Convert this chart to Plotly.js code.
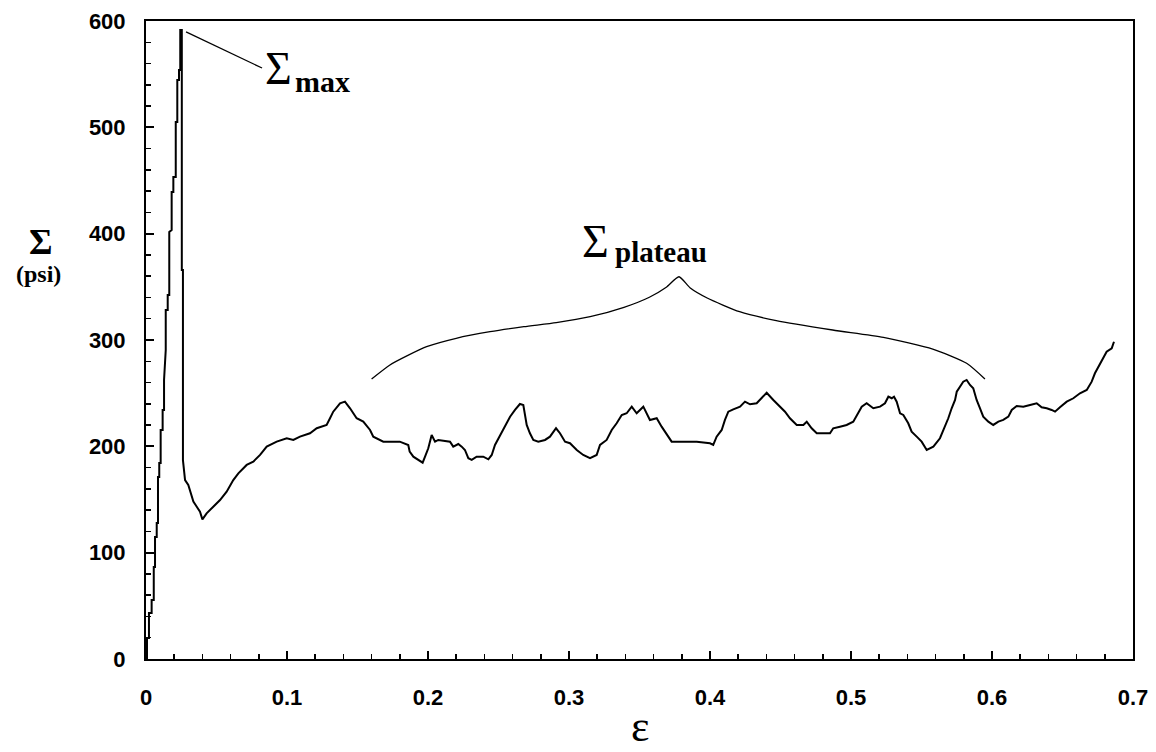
<!DOCTYPE html>
<html>
<head>
<meta charset="utf-8">
<script src="https://cdn.plot.ly/plotly-3.0.1.min.js"></script>
<style>html,body{margin:0;padding:0;background:#fff;}#chart{width:1156px;height:752px;}</style>
</head>
<body>
<div id="chart"></div>
<script>
// Strain (ε) and stress (Σ, psi)
const strain = [0,0.0007,0.0007,0.0021,0.0021,0.0040,0.0040,0.0055,0.0055,0.0064,0.0064,0.0076,0.0076,0.0085,0.0085,0.0094,0.0094,0.0104,0.0104,0.0118,0.0118,0.0128,0.0128,0.0140,0.0140,0.0154,0.0154,0.0165,0.0165,0.0182,0.0182,0.0194,0.0194,0.0211,0.0211,0.0222,0.0222,0.0234,0.0234,0.0243,0.0243,0.0254,0.0254,0.0262,0.0262,0.0270,0.0277,0.0300,0.0324,0.0336,0.0360,0.0383,0.0400,0.0430,0.0477,0.0525,0.0572,0.0619,0.0655,0.0714,0.0761,0.0809,0.0856,0.0927,0.0998,0.1045,0.1092,0.1163,0.1211,0.1281,0.1305,0.1328,0.1376,0.1411,0.1447,0.1494,0.1541,0.1589,0.1612,0.1683,0.1754,0.1800,0.1860,0.1870,0.1896,0.1931,0.1962,0.1979,0.2002,0.2026,0.2050,0.2073,0.2156,0.2179,0.2215,0.2239,0.2262,0.2286,0.2310,0.2345,0.2392,0.2428,0.2452,0.2475,0.2511,0.2546,0.2582,0.2617,0.2652,0.2676,0.2700,0.2723,0.2747,0.2782,0.2830,0.2865,0.2908,0.2936,0.2972,0.3007,0.3055,0.3101,0.3149,0.3196,0.3220,0.3267,0.3303,0.3338,0.3374,0.3409,0.3445,0.3480,0.3527,0.3574,0.3622,0.3657,0.3693,0.3728,0.3787,0.3906,0.4000,0.4023,0.4047,0.4083,0.4106,0.4130,0.4165,0.4213,0.4248,0.4284,0.4331,0.4355,0.4402,0.4449,0.4496,0.4532,0.4567,0.4615,0.4662,0.4686,0.4721,0.4757,0.4851,0.4874,0.4922,0.4969,0.5016,0.5052,0.5076,0.5111,0.5158,0.5206,0.5241,0.5265,0.5289,0.5305,0.5324,0.5348,0.5371,0.5406,0.5430,0.5466,0.5501,0.5537,0.5584,0.5631,0.5667,0.5690,0.5714,0.5738,0.5750,0.5773,0.5796,0.5820,0.5844,0.5867,0.5891,0.5915,0.5938,0.5974,0.6009,0.6045,0.6080,0.6116,0.6140,0.6175,0.6222,0.6270,0.6317,0.6352,0.6388,0.6423,0.6447,0.6482,0.6530,0.6577,0.6624,0.6672,0.6707,0.6730,0.6766,0.6789,0.6813,0.6849,0.6865];
const stress = [0,0,19.7,19.7,43.3,43.3,55.5,55.5,86.5,86.5,114.7,114.7,127.9,127.9,171.2,171.2,184.3,184.3,215.4,215.4,234.2,234.2,262.4,290.6,328.2,328.2,342.3,342.3,401.6,403.5,439.2,439.2,453.3,453.3,505,505,544.5,544.5,553.9,553.9,591.5,591.5,365.8,365.8,187,174.6,168.3,163.6,154.2,148,143.2,138.5,131.3,137,143.2,149.5,157.3,168.3,174.6,182.5,185.6,191.9,199.7,204.4,207.6,206,209.1,212.3,217,220.1,226.4,232.6,240.5,242,235.8,226.4,223.2,215.4,209.1,204.4,204.4,204.4,201.3,195,190.3,187.2,184.6,190.3,198.2,210.7,204.4,206,204.4,199.7,202.2,199.7,196.6,188.8,187.2,190.3,190.3,187.8,191.9,201.3,210.7,218.5,227.9,234.2,239.8,238.9,220.1,212.3,206,204.4,206,209.1,217,212.3,204.4,202.9,196.6,191.9,188.8,191.9,201.3,206,215.4,221.7,229.5,231.1,237.3,231.1,237.3,224.8,226.4,218.5,210.7,204.4,204.4,204.4,202.9,201.3,209.1,215.4,224.8,232.6,234.8,237.3,242,239.5,240.5,243.6,250.4,243.6,237.3,232.6,226.4,220.1,220.1,223.2,217,212.3,212.3,217,218.5,220.1,223.2,231.1,237.3,240.5,235.8,237.3,240.5,246.7,245.2,246.7,242,231.1,229.5,221.7,213.8,209.1,204.4,196.6,199.7,207.6,218.5,226.4,235.8,243.6,251.4,256.1,260.8,262.4,257.7,254.6,243.6,235.8,227.9,223.2,220.1,223.2,224.8,227.9,234.2,237.9,237.3,238.9,240.5,236.7,235.8,234.2,232.6,236.7,242,245.2,249.9,253,260.8,268.7,278.1,282.8,289,292.2,298.4];

// Curly brace marking the plateau region
const braceX = [0.160,0.173,0.185,0.199,0.220,0.244,0.268,0.291,0.315,0.339,0.357,0.369,0.378,0.386,0.398,0.421,0.447,0.487,0.523,0.558,0.582,0.595];
const braceY = [263.3,276.5,285,293.7,301.6,307.8,312.5,316.3,321.9,330.7,340.2,349.6,359.5,348.9,339.5,326.6,318.2,309.4,302.5,291.5,278.1,263.3];

// Leader line to the maximum
const leaderX = [0.0284,0.0823];
const leaderY = [589.7,555.8];

const xTicks = [0,0.1,0.2,0.3,0.4,0.5,0.6,0.7];
const xTickText = ['0','0.1','0.2','0.3','0.4','0.5','0.6','0.7'];
const yTicks = [0,100,200,300,400,500,600];
const yTickText = ['0','100','200','300','400','500','600'];

const traces = [
  {x: strain, y: stress, type: 'scatter', mode: 'lines', line: {color: '#000', width: 2}, hoverinfo: 'skip'},
  {x: braceX, y: braceY, type: 'scatter', mode: 'lines', line: {color: '#000', width: 1.3, shape: 'spline', smoothing: 0.6}, hoverinfo: 'skip'},
  {x: leaderX, y: leaderY, type: 'scatter', mode: 'lines', line: {color: '#000', width: 1.3}, hoverinfo: 'skip'}
];

const serif = 'Liberation Serif, Times New Roman, serif';
const tickFont = {family: 'Liberation Sans, Arial, sans-serif', size: 22, color: '#000', weight: 'bold'};

const layout = {
  width: 1156, height: 752,
  margin: {l: 146, r: 23, t: 21, b: 93},
  paper_bgcolor: '#fff', plot_bgcolor: '#fff',
  showlegend: false,
  xaxis: {
    range: [0, 0.7], tickvals: xTicks, ticktext: xTickText,
    showgrid: false, zeroline: false, showline: true, mirror: true,
    linecolor: '#000', linewidth: 2,
    ticks: 'inside', ticklen: 8, tickwidth: 2, tickcolor: '#000',
    minor: {dtick: 0.02, ticks: 'inside', ticklen: 5, tickwidth: 1.5, tickcolor: '#000', showgrid: false},
    tickfont: tickFont, ticklabelstandoff: 18
  },
  yaxis: {
    range: [0, 600], tickvals: yTicks, ticktext: yTickText,
    showgrid: false, zeroline: false, showline: true, mirror: true,
    linecolor: '#000', linewidth: 2,
    ticks: 'inside', ticklen: 8, tickwidth: 2, tickcolor: '#000',
    minor: {dtick: 20, ticks: 'inside', ticklen: 5, tickwidth: 1.5, tickcolor: '#000', showgrid: false},
    tickfont: tickFont, ticklabelstandoff: 14
  },
  annotations: [
    {text: 'Σ', xref: 'paper', yref: 'paper', x: -0.1059, y: 0.6536, showarrow: false, xanchor: 'center', yanchor: 'middle', font: {family: serif, size: 36, color: '#000', weight: 'bold'}},
    {text: '(psi)', xref: 'paper', yref: 'paper', x: -0.1094, y: 0.6040, showarrow: false, xanchor: 'center', yanchor: 'middle', font: {family: serif, size: 24, color: '#000', weight: 'bold'}},
    {text: 'ε', xref: 'x', yref: 'paper', x: 0.35, y: -0.106, showarrow: false, xanchor: 'center', yanchor: 'middle', font: {family: serif, size: 44, color: '#000'}},
    {text: 'Σ', xref: 'x', yref: 'y', x: 0.0943, y: 555.8, showarrow: false, xanchor: 'center', yanchor: 'middle', font: {family: serif, size: 46, color: '#000'}},
    {text: 'max', xref: 'x', yref: 'y', x: 0.1045, y: 543.5, showarrow: false, xanchor: 'left', yanchor: 'middle', font: {family: serif, size: 30, color: '#000', weight: 'bold'}},
    {text: 'Σ', xref: 'x', yref: 'y', x: 0.3185, y: 392.2, showarrow: false, xanchor: 'center', yanchor: 'middle', font: {family: serif, size: 46, color: '#000'}},
    {text: 'plateau', xref: 'x', yref: 'y', x: 0.3315, y: 382.3, showarrow: false, xanchor: 'left', yanchor: 'middle', font: {family: serif, size: 29, color: '#000', weight: 'bold'}}
  ]
};

Plotly.newPlot('chart', traces, layout, {displayModeBar: false, staticPlot: true});
</script>
</body>
</html>
